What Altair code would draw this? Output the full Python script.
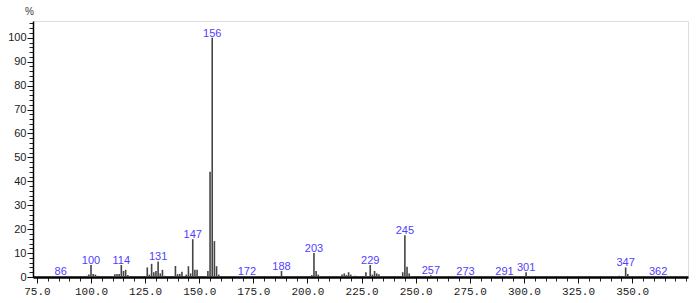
import altair as alt
import pandas as pd

mz = [86, 98, 99, 100, 101, 102, 103,
      111, 112, 113, 114, 115, 116, 117,
      126, 127, 128, 129, 130, 131, 132, 133, 134,
      139, 140, 141, 142, 144, 145, 146, 147, 148, 149,
      154, 155, 156, 157, 158, 159,
      172, 188, 202, 203, 204, 205,
      216, 217, 218, 219, 220, 222,
      227, 229, 230, 231, 232, 233,
      244, 245, 246, 247, 257, 273, 291, 301,
      344, 347, 348, 362]
intensity = [0.3, 0.5, 1.0, 5.0, 1.3, 1.0, 0.5,
             1.2, 1.3, 1.3, 5.0, 2.5, 3.0, 0.8,
             4.0, 1.0, 5.5, 2.0, 2.5, 6.5, 1.5, 3.0, 0.5,
             4.6, 1.2, 1.3, 2.2, 1.0, 4.5, 1.5, 15.8, 3.0, 3.0,
             2.5, 44.0, 100.0, 15.0, 4.5, 1.0,
             0.3, 2.5, 0.8, 10.0, 2.5, 1.0,
             1.0, 1.5, 0.8, 2.0, 1.0, 0.5,
             2.0, 5.0, 1.0, 2.5, 1.5, 1.2,
             2.0, 17.5, 4.3, 1.5, 0.7, 0.5, 0.3, 2.0,
             0.5, 4.0, 1.3, 0.3]
labeled = [86, 100, 114, 131, 147, 156, 172, 188, 203, 229, 245, 257, 273, 291, 301, 347, 362]

x_major = [75, 100, 125, 150, 175, 200, 225, 250, 275, 300, 325, 350]
x_minor = list(range(75, 376, 5))
y_major = list(range(0, 101, 10))
y_minor = list(range(0, 107, 2))

df = pd.DataFrame({"mz": mz, "intensity": intensity})
df["label"] = [str(m) if m in labeled else "" for m in mz]

xscale = alt.Scale(domain=[73.2, 375.8], nice=False, zero=False)
yscale = alt.Scale(domain=[0, 107], nice=False)

base = alt.Chart(df)

minor_axes = base.mark_rule(opacity=0).encode(
    x=alt.X("mz:Q", scale=xscale, axis=alt.Axis(orient="bottom", values=x_minor, labels=False, tickSize=4,
                                                 tickColor="#222", domain=False, grid=False, title=None)),
    y=alt.Y("intensity:Q", scale=yscale, axis=alt.Axis(orient="left", values=y_minor, labels=False, tickSize=4,
                                                        tickColor="#222", domain=False, grid=False, title=None)),
)

bars = base.mark_rule(color="#444444", strokeWidth=1.6).encode(
    x=alt.X("mz:Q", scale=xscale,
            axis=alt.Axis(orient="bottom", values=x_major, format=".1f", tickSize=6, tickColor="#111",
                          domainColor="#000", domainWidth=2.5, grid=False, title=None,
                          labelFont="Liberation Mono", labelFontSize=11, labelColor="#1a1a1a",
                          labelPadding=2, labelFlush=False)),
    y=alt.Y("intensity:Q", scale=yscale,
            axis=alt.Axis(orient="left", values=y_major, tickSize=6, tickColor="#111",
                          domainColor="#000", domainWidth=1.5, grid=False,
                          title="%", titleAngle=0, titleX=-4, titleY=-5, titleAlign="center",
                          titleBaseline="bottom", titleFont="Liberation Sans", titleFontSize=10,
                          titleFontWeight="normal", titleColor="#333",
                          labelFont="Liberation Sans", labelFontSize=11, labelColor="#1a1a1a",
                          labelPadding=1, labelFlush=False)),
    y2=alt.datum(0),
)

labels = base.transform_filter(alt.datum.label != "").mark_text(
    color="#5040FF", font="Liberation Sans", fontSize=11, baseline="alphabetic", align="center", dy=-1
).encode(
    x=alt.X("mz:Q", scale=xscale, axis=None),
    y=alt.Y("intensity:Q", scale=yscale, axis=None),
    text="label:N",
)

chart = alt.layer(minor_axes, bars, labels).resolve_axis(x="independent", y="independent").properties(
    width=655, height=256,
    autosize=alt.AutoSizeParams(type="none"),
    padding={"left": 33, "top": 21, "right": 12, "bottom": 26},
).configure_view(stroke="#444444", strokeWidth=1.5).configure(background="white")

chart.save("out.html", embed_options={"renderer": "svg", "actions": False})
